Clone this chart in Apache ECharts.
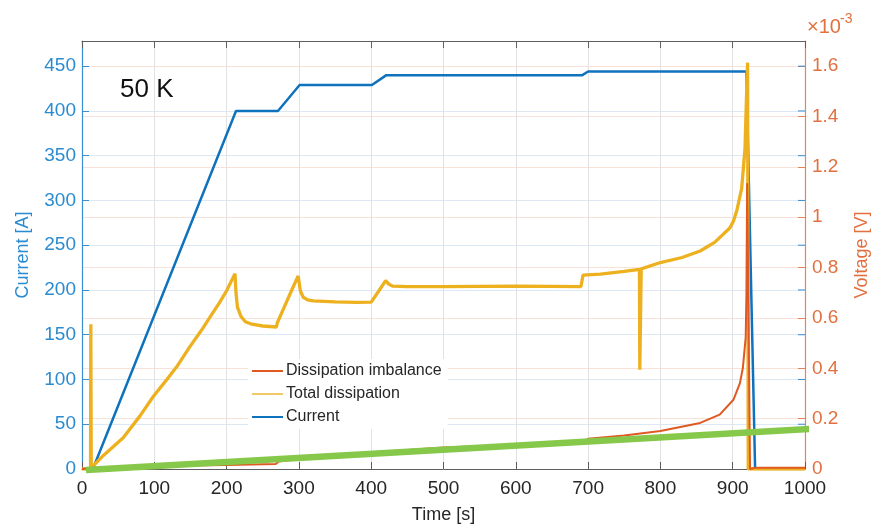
<!DOCTYPE html>
<html>
<head>
<meta charset="utf-8">
<script src="https://cdn.jsdelivr.net/npm/echarts@6/dist/echarts.min.js"></script>
<style>
  html, body { margin: 0; padding: 0; background: #ffffff; }
  #chart { width: 891px; height: 529px; }
</style>
</head>
<body>
<div id="chart"></div>
<script>
// Current ramp (left axis, A)
const currentTime  = [0, 15, 213, 271, 301, 401, 421, 692, 700, 919, 931, 1000];
const currentValue = [0, 0, 400, 400, 429, 429, 440, 440, 444, 444, 0, 0];

// Total dissipation voltage (right axis, x10^-3 V)
const totalTime  = [0, 11.8, 12.2, 12.8, 15.6, 30, 57, 80, 98.6, 120, 131, 149, 165, 177, 190, 200, 211.6,
                    213, 215, 220, 226, 235, 250, 269, 270, 280, 290, 299, 302, 306, 312, 320, 350, 380, 400,
                    410, 420, 424, 430, 450, 500, 550, 600, 650, 690, 693, 717, 750, 771, 771.5, 773, 773.5,
                    800, 830, 855, 875, 896, 901, 906, 912.4, 917, 919, 920.6, 921.5, 1000];
const totalValue = [0, 0, 0.575, 0.01, 0.013, 0.055, 0.124, 0.21, 0.288, 0.365, 0.406, 0.485, 0.55, 0.603, 0.66, 0.708, 0.776,
                    0.70, 0.643, 0.605, 0.585, 0.575, 0.568, 0.564, 0.58, 0.645, 0.71, 0.767, 0.708, 0.682, 0.672, 0.668, 0.664, 0.662, 0.663,
                    0.705, 0.748, 0.735, 0.726, 0.724, 0.724, 0.725, 0.726, 0.725, 0.724, 0.77, 0.774, 0.785, 0.793, 0.394, 0.394, 0.795,
                    0.82, 0.84, 0.866, 0.9, 0.957, 0.984, 1.03, 1.115, 1.272, 1.47, 1.614, 0, 0];

// Dissipation imbalance voltage (right axis, x10^-3 V)
const imbalanceTime  = [0, 15, 100, 200, 268, 272, 300, 400, 420, 500, 600, 690, 700, 750, 800, 855, 882,
                        901, 910, 914, 918, 919, 920, 924, 931, 1000];
const imbalanceValue = [0, 0.005, 0.012, 0.016, 0.02, 0.03, 0.04, 0.06, 0.07, 0.085, 0.095, 0.105, 0.12, 0.133, 0.151, 0.183, 0.216,
                        0.275, 0.341, 0.4, 0.524, 0.695, 1.135, 0, 0.005, 0.005];

// Straight reference line drawn over the traces (right axis, x10^-3 V)
const trendTime  = [5.5, 1008];
const trendValue = [-0.004, 0.159];

// Axis ticks
const timeTicks = { min: 0, max: 1000, step: 100 };
const currentTicks = { min: 0, last: 450, step: 50 };
const voltageTicks = { max: 1.7, step: 0.2 };

const zip = (a, b) => a.map((v, i) => [v, b[i]]);
const currentTickValues = [];
for (let v = currentTicks.min; v <= currentTicks.last; v += currentTicks.step) currentTickValues.push([timeTicks.max, v]);

const FONT = '"Liberation Sans", Arial, Helvetica, sans-serif';
const BLUE = '#0f72bd';
const BLUE_TXT = '#2a8bd0';
const BLUE_AX = '#3a8ed0';
const ORANGE = '#df5a22';
const ORANGE_TXT = '#e2703f';
const ORANGE_AX = '#e5845a';
const YELLOW = '#edb120';
const DARK = '#262626';
const FRAME = '#5e5e5e';

// Left and right axes share the same vertical scale: 450 A <-> 1.6e-3 V
const currentMax = voltageTicks.max * (450 / 1.6);

const chart = echarts.init(document.getElementById('chart'), null, { renderer: 'canvas' });

chart.setOption({
  backgroundColor: '#ffffff',
  animation: false,
  textStyle: { fontFamily: FONT },
  grid: { left: 82, right: 86, top: 41, bottom: 56, containLabel: false },
  legend: {
    orient: 'vertical',
    left: 248,
    top: 359,
    padding: [4, 6, 4, 4],
    backgroundColor: '#ffffff',
    itemWidth: 31,
    itemHeight: 2,
    itemGap: 7,
    icon: 'rect',
    textStyle: { fontFamily: FONT, fontSize: 16, color: DARK, padding: [0, 0, 0, -2] },
    data: [
      { name: 'Dissipation imbalance', itemStyle: { color: ORANGE } },
      { name: 'Total dissipation', itemStyle: { color: '#f2c96a' } },
      { name: 'Current', itemStyle: { color: BLUE } }
    ]
  },
  xAxis: [
    {
      type: 'value',
      position: 'bottom',
      min: timeTicks.min, max: timeTicks.max, interval: timeTicks.step,
      name: 'Time [s]',
      nameLocation: 'middle',
      nameGap: 37,
      nameTextStyle: { fontFamily: FONT, fontSize: 18, color: DARK },
      axisLine: { show: true, onZero: false, lineStyle: { color: FRAME, width: 1 } },
      axisTick: { show: true, inside: true, length: 7, lineStyle: { color: FRAME } },
      axisLabel: { fontFamily: FONT, fontSize: 19, color: DARK, margin: 10, formatter: v => String(v) },
      splitLine: { show: true, lineStyle: { color: '#e2e2e2', width: 1 } }
    },
    {
      type: 'value',
      position: 'top',
      min: timeTicks.min, max: timeTicks.max, interval: timeTicks.step,
      axisLine: { show: true, onZero: false, lineStyle: { color: FRAME, width: 1 } },
      axisTick: { show: true, inside: true, length: 7, lineStyle: { color: FRAME } },
      axisLabel: { show: false },
      splitLine: { show: false }
    }
  ],
  yAxis: [
    {
      type: 'value',
      position: 'left',
      min: 0, max: currentMax, interval: currentTicks.step,
      name: 'Current [A]',
      nameLocation: 'middle',
      nameGap: 50,
      nameRotate: 90,
      nameTextStyle: { fontFamily: FONT, fontSize: 18, color: BLUE_TXT },
      axisLine: { show: true, onZero: false, lineStyle: { color: BLUE_AX, width: 1.2 } },
      axisTick: { show: true, inside: true, length: 7, lineStyle: { color: BLUE_AX } },
      axisLabel: { fontFamily: FONT, fontSize: 19, color: BLUE_TXT, margin: 6, showMaxLabel: false },
      splitLine: { show: true, lineStyle: { color: '#dce9f5', width: 1 } }
    },
    {
      type: 'value',
      position: 'right',
      min: 0, max: voltageTicks.max, interval: voltageTicks.step,
      name: 'Voltage [V]',
      nameLocation: 'middle',
      nameGap: 48,
      nameRotate: 90,
      nameTextStyle: { fontFamily: FONT, fontSize: 18, color: ORANGE_TXT },
      axisLine: { show: true, onZero: false, lineStyle: { color: ORANGE_AX, width: 1.2 } },
      axisTick: { show: true, inside: true, length: 7, lineStyle: { color: ORANGE_AX } },
      axisLabel: {
        fontFamily: FONT, fontSize: 19, color: ORANGE_TXT, margin: 7, showMaxLabel: false,
        formatter: v => String(Math.round(v * 10) / 10)
      },
      splitLine: { show: true, lineStyle: { color: '#f8e1d7', width: 1 } }
    }
  ],
  graphic: [
    {
      type: 'text', left: 120, top: 77,
      style: { text: '50 K', fontFamily: FONT, fontSize: 26, fill: '#111111' }
    },
    {
      type: 'text', left: 807, top: 17,
      style: { text: '×10', fontFamily: FONT, fontSize: 20, fill: ORANGE_TXT }
    },
    {
      type: 'text', left: 840, top: 12,
      style: { text: '-3', fontFamily: FONT, fontSize: 14, fill: ORANGE_TXT }
    }
  ],
  series: [
    {
      // current ticks repeated along the right edge of the box
      name: 'currentTicksRight',
      type: 'custom',
      xAxisIndex: 0, yAxisIndex: 0,
      silent: true,
      clip: false,
      data: currentTickValues,
      renderItem: (params, api) => {
        const p = api.coord([api.value(0), api.value(1)]);
        return {
          type: 'line',
          shape: { x1: p[0] - 7, y1: p[1], x2: p[0], y2: p[1] },
          style: { stroke: BLUE_AX, lineWidth: 1 }
        };
      },
      z: 1
    },
    {
      name: 'Current',
      type: 'line',
      xAxisIndex: 0, yAxisIndex: 0,
      data: zip(currentTime, currentValue),
      showSymbol: false,
      lineStyle: { color: BLUE, width: 2.5 },
      itemStyle: { color: BLUE },
      z: 3
    },
    {
      name: 'Total dissipation',
      type: 'line',
      xAxisIndex: 0, yAxisIndex: 1,
      data: zip(totalTime, totalValue),
      showSymbol: false,
      lineStyle: { color: YELLOW, width: 3.3 },
      itemStyle: { color: YELLOW },
      z: 4
    },
    {
      name: 'Dissipation imbalance',
      type: 'line',
      xAxisIndex: 0, yAxisIndex: 1,
      data: zip(imbalanceTime, imbalanceValue),
      showSymbol: false,
      lineStyle: { color: ORANGE, width: 2 },
      itemStyle: { color: ORANGE },
      z: 5
    },
    {
      name: 'trend',
      type: 'line',
      xAxisIndex: 0, yAxisIndex: 1,
      data: zip(trendTime, trendValue),
      showSymbol: false,
      clip: false,
      silent: true,
      lineStyle: { color: '#86c84a', width: 6.5 },
      itemStyle: { color: '#86c84a' },
      z: 6
    }
  ]
});
</script>
</body>
</html>
